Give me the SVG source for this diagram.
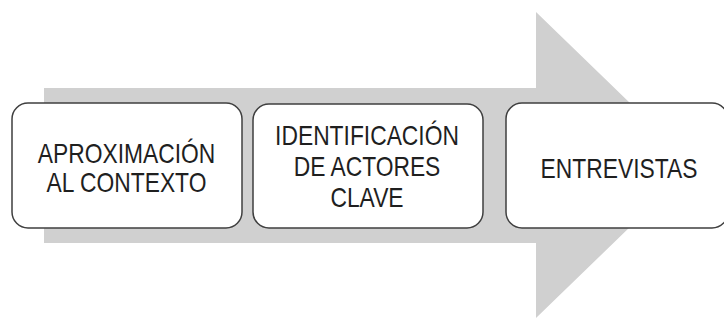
<svg xmlns="http://www.w3.org/2000/svg" width="724" height="320" viewBox="0 0 724 320">
<style>
.box{fill:#ffffff;stroke:#3f3f3f;stroke-width:1.5}
.t{font-family:"Liberation Sans",Arial,sans-serif;font-size:27.5px;fill:#1f1f1f;text-anchor:middle}
</style>
<rect width="724" height="320" fill="#ffffff"/>
<g id="connectors">
<polygon points="44,88 536,88 536,12 694,165 536,318 536,243 44,243" fill="#d0d0d0"/>
</g>
<g id="n1">
<rect class="box" x="12" y="103" width="230" height="125" rx="16"/>
<text class="t" transform="translate(126.5,163) scale(0.83,1)">APROXIMACIÓN</text>
<text class="t" transform="translate(126.5,192) scale(0.83,1)">AL CONTEXTO</text>
</g>
<g id="n2">
<rect class="box" x="253" y="104" width="230" height="124" rx="16"/>
<text class="t" transform="translate(367,145) scale(0.83,1)">IDENTIFICACIÓN</text>
<text class="t" transform="translate(367,176) scale(0.83,1)">DE ACTORES</text>
<text class="t" transform="translate(367,207) scale(0.83,1)">CLAVE</text>
</g>
<g id="n3">
<rect class="box" x="506" y="103" width="222" height="125" rx="16"/>
<text class="t" transform="translate(619,178) scale(0.83,1)">ENTREVISTAS</text>
</g>
</svg>
